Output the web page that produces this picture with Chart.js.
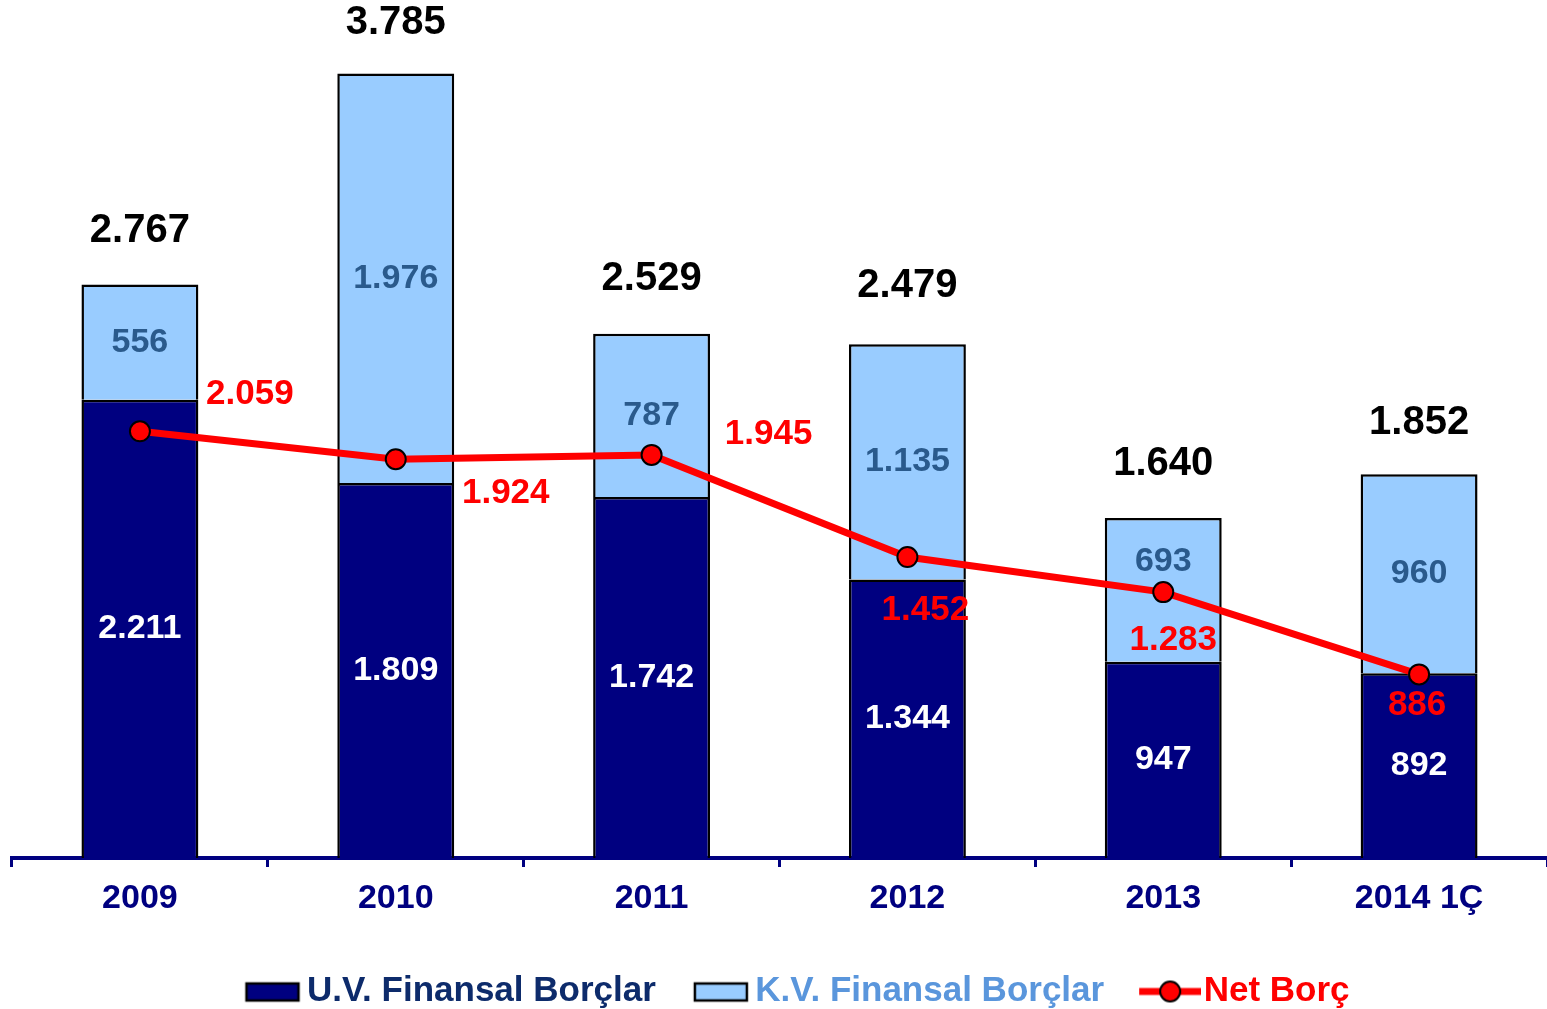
<!DOCTYPE html>
<html lang="tr">
<head>
<meta charset="UTF-8">
<title>Finansal Borçlar</title>
<script src="https://cdn.jsdelivr.net/npm/chart.js"></script>
<style>
  html, body { margin: 0; padding: 0; background: #fff; overflow: hidden; }
  #debtChart { display: block; }
</style>
</head>
<body>
<canvas id="debtChart" width="1547" height="1009"></canvas>
<script>
const years = ["2009", "2010", "2011", "2012", "2013", "2014 1Ç"];
const longTerm = [2211, 1809, 1742, 1344, 947, 892];   // U.V. Finansal Borçlar
const shortTerm = [556, 1976, 787, 1135, 693, 960];    // K.V. Finansal Borçlar
const netDebt = [2059, 1924, 1945, 1452, 1283, 886];   // Net Borç

const NAVY = "#000080";
const LIGHT = "#99CCFF";
const RED = "#FF0000";
const FONT = "'Liberation Sans', Arial, sans-serif";

// label nudges in px
const netLabelShift = [[110, -37], [110, 34], [117, -21], [18, 53], [10, 48], [-2, 31]];
const shortLabelShift = [0, 0, 0, 0, -28, 0];
const totalLabelGap = [54, 51, 55, 58, 54, 51];

function fmt(v) {
    return String(Math.round(v)).replace(/\B(?=(\d{3})+(?!\d))/g, ".");
}

// legend swatches drawn into small canvases (used as pointStyle)
function swatch(kind) {
    const c = document.createElement("canvas");
    c.width = 110;
    c.height = 26;
    const g = c.getContext("2d");
    if (kind === "line") {
        g.strokeStyle = RED;
        g.lineWidth = 7;
        g.beginPath();
        g.moveTo(48, 13);
        g.lineTo(110, 13);
        g.stroke();
        g.beginPath();
        g.arc(79, 13, 10, 0, Math.PI * 2);
        g.fillStyle = RED;
        g.fill();
        g.lineWidth = 2;
        g.strokeStyle = "#000";
        g.stroke();
    } else {
        g.fillStyle = kind;
        g.fillRect(52, 5, 52, 17);
        g.lineWidth = 2.5;
        g.strokeStyle = "#000";
        g.strokeRect(52, 5, 52, 17);
    }
    return c;
}

const valueLabels = {
    id: "valueLabels",
    afterDatasetsDraw(chart) {
        const ctx = chart.ctx;
        const netMeta = chart.getDatasetMeta(0);
        const uvMeta = chart.getDatasetMeta(1);
        const kvMeta = chart.getDatasetMeta(2);
        ctx.save();
        ctx.textAlign = "center";
        ctx.textBaseline = "middle";
        years.forEach((_, i) => {
            const uv = uvMeta.data[i], kv = kvMeta.data[i], pt = netMeta.data[i];

            ctx.font = "bold 34px " + FONT;
            ctx.fillStyle = "#fff";
            ctx.fillText(fmt(longTerm[i]), uv.x, (uv.y + uv.base) / 2);

            ctx.fillStyle = "#2A5A8C";
            ctx.fillText(fmt(shortTerm[i]), kv.x, (kv.y + kv.base) / 2 + shortLabelShift[i]);

            ctx.font = "bold 35px " + FONT;
            ctx.fillStyle = RED;
            ctx.fillText(fmt(netDebt[i]), pt.x + netLabelShift[i][0], pt.y + netLabelShift[i][1]);

            ctx.font = "bold 40px " + FONT;
            ctx.fillStyle = "#000";
            ctx.fillText(fmt(longTerm[i] + shortTerm[i]), kv.x, kv.y - totalLabelGap[i]);
        });
        ctx.restore();
    }
};

const ctx = document.getElementById("debtChart").getContext("2d");
new Chart(ctx, {
    type: "bar",
    data: {
        labels: years,
        datasets: [{
            type: "line",
            label: "Net Borç",
            data: netDebt,
            stack: "net",
            order: 0,
            borderColor: RED,
            backgroundColor: RED,
            borderWidth: 7,
            tension: 0,
            pointRadius: 10,
            pointBackgroundColor: RED,
            pointBorderColor: "#000",
            pointBorderWidth: 2
        }, {
            label: "U.V. Finansal Borçlar",
            data: longTerm,
            stack: "debt",
            order: 1,
            backgroundColor: NAVY,
            borderColor: "#000",
            borderWidth: 2.5,
            barPercentage: 0.457,
            categoryPercentage: 1
        }, {
            label: "K.V. Finansal Borçlar",
            data: shortTerm,
            stack: "debt",
            order: 1,
            backgroundColor: LIGHT,
            borderColor: "#000",
            borderWidth: 2.5,
            barPercentage: 0.457,
            categoryPercentage: 1
        }]
    },
    options: {
        responsive: false,
        animation: false,
        layout: { autoPadding: false, padding: { top: 29, left: 12, right: 0, bottom: -10 } },
        scales: {
            x: {
                stacked: true,
                offset: true,
                grid: {
                    display: true,
                    offset: true,
                    drawOnChartArea: false,
                    drawTicks: true,
                    tickLength: 9,
                    tickColor: NAVY,
                    tickWidth: 3
                },
                border: { display: true, color: NAVY, width: 4 },
                ticks: {
                    color: NAVY,
                    padding: 11,
                    font: { family: FONT, size: 34, weight: "bold" }
                },
                afterFit: (scale) => { scale.height = 114; }
            },
            y: {
                stacked: true,
                display: false,
                min: 0,
                max: 4000
            }
        },
        plugins: {
            tooltip: { enabled: false },
            legend: {
                position: "bottom",
                labels: {
                    usePointStyle: true,
                    pointStyleWidth: 80,
                    boxHeight: 20,
                    padding: 2,
                    font: { family: FONT, size: 35, weight: "bold" },
                    generateLabels: () => [
                        { text: "U.V. Finansal Borçlar", fontColor: "#0D2B6B", pointStyle: swatch(NAVY), lineWidth: 0, datasetIndex: 1 },
                        { text: "K.V. Finansal Borçlar", fontColor: "#5A96DC", pointStyle: swatch(LIGHT), lineWidth: 0, datasetIndex: 2 },
                        { text: "Net Borç", fontColor: RED, pointStyle: swatch("line"), lineWidth: 0, datasetIndex: 0 }
                    ]
                }
            }
        }
    },
    plugins: [valueLabels]
});
</script>
</body>
</html>
